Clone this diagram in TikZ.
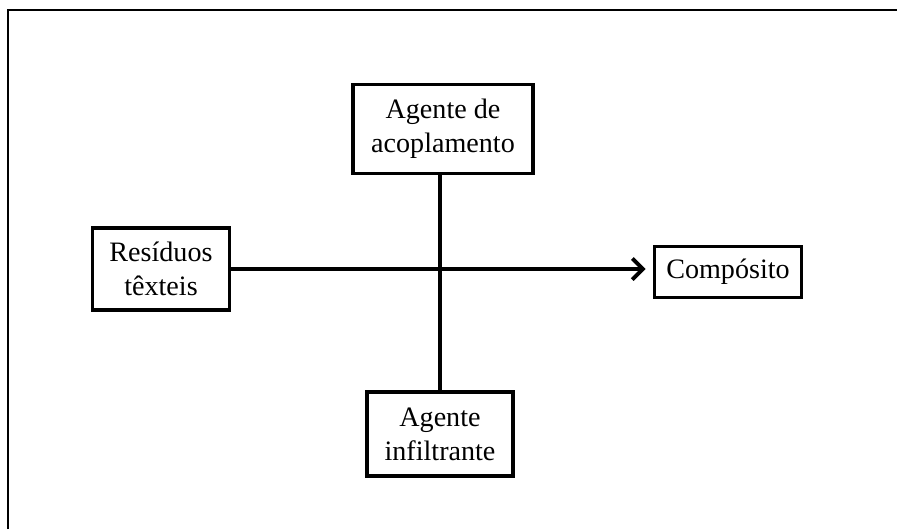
\documentclass[tikz,border=0pt]{standalone}
\usepackage{fontspec}
\setmainfont{Liberation Serif}
\usetikzlibrary{arrows.meta}

\begin{document}
\begin{tikzpicture}[x=0.02cm, y=-0.02cm, line width=2.2pt,
  caixa/.style={draw, align=center, inner sep=0pt,
    font=\fontsize{16}{19.5}\selectfont}]
  % area da figura
  \useasboundingbox (0,0) rectangle (897,529);
  % moldura (so topo e esquerda)
  \draw[line width=1.4pt] (8,529) -- (8,10) -- (897,10);
  % caixas
  \node[caixa, minimum width=137*0.02cm, minimum height=82*0.02cm] (res) at (161,269) {Resíduos\\têxteis};
  \node[caixa, minimum width=147*0.02cm, minimum height=51*0.02cm] (comp) at (728,272) {Compósito};
  \node[caixa, minimum width=180*0.02cm, minimum height=89*0.02cm] (acop) at (443,129) {Agente de\\acoplamento};
  \node[caixa, minimum width=146*0.02cm, minimum height=84*0.02cm] (infil) at (440,434) {Agente\\infiltrante};
  % ligacoes
  \draw (infil.north) -- (infil.north |- acop.south);
  \draw[-{Straight Barb[length=6pt, width=12pt]}, shorten >=7*0.02cm] (res.east) -- (res.east -| comp.west);
\end{tikzpicture}
\end{document}
